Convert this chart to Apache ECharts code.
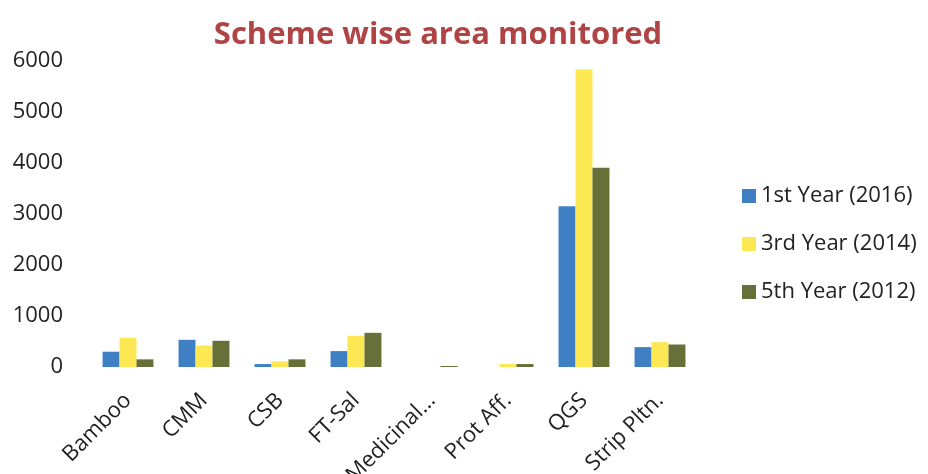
<!DOCTYPE html>
<html>
<head>
<meta charset="utf-8">
<title>Scheme wise area monitored</title>
<script src="https://cdn.jsdelivr.net/npm/echarts@6/dist/echarts.min.js"></script>
<style>
  html, body { margin: 0; padding: 0; background: #fff; }
  #chart { width: 928px; height: 474px; }
</style>
</head>
<body>
<div id="chart"></div>
<script>
// categories and values
var schemes = ['Bamboo', 'CMM', 'CSB', 'FT-Sal', 'Medicinal...', 'Prot Aff.', 'QGS', 'Strip Pltn.'];
var year1 = [300, 533, 58, 312, 0, 0, 3150, 390];     // 1st Year (2016)
var year3 = [572, 422, 110, 611, 0, 58, 5840, 488];   // 3rd Year (2014)
var year5 = [150, 514, 150, 670, 20, 58, 3906, 441];  // 5th Year (2012)
var seriesNames = ['1st Year (2016)', '3rd Year (2014)', '5th Year (2012)'];
var yTicks = [0, 1000, 2000, 3000, 4000, 5000, 6000];

var font = '"Open Sans", "Noto Sans", sans-serif';

var myChart = echarts.init(document.getElementById('chart'));
var option = {
    animation: false,
    color: ['#3F80C4', '#FBE853', '#667038'],
    title: {
        text: 'Scheme wise area monitored',
        left: 433,
        textAlign: 'center',
        top: 15,
        textStyle: { color: '#B04343', fontSize: 31, fontWeight: 'bold', fontFamily: font }
    },
    legend: {
        orient: 'vertical',
        left: 737,
        top: 180,
        itemWidth: 14,
        itemHeight: 14,
        itemGap: 26,
        icon: 'rect',
        textStyle: { color: '#222', fontSize: 22, fontFamily: font },
        data: seriesNames
    },
    grid: { left: 90, right: 230, top: 61, bottom: 107, outerBoundsMode: 'none', containLabel: false },
    xAxis: {
        type: 'category',
        data: schemes,
        axisLine: { show: false },
        axisTick: { show: false },
        axisLabel: { rotate: 45, margin: 30, color: '#222', fontSize: 22, fontFamily: font, interval: 0 }
    },
    yAxis: {
        type: 'value',
        min: yTicks[0],
        max: yTicks[yTicks.length - 1],
        interval: 1000,
        splitLine: { show: false },
        axisLine: { show: false },
        axisTick: { show: false },
        axisLabel: {
            color: '#222', fontSize: 22, fontFamily: font, margin: 27,
            formatter: function (v) { return String(v); }
        }
    },
    series: [
        { name: seriesNames[0], type: 'bar', data: year1, barGap: '0%', barCategoryGap: '33%' },
        { name: seriesNames[1], type: 'bar', data: year3, barGap: '0%', barCategoryGap: '33%' },
        { name: seriesNames[2], type: 'bar', data: year5, barGap: '0%', barCategoryGap: '33%' }
    ]
};
myChart.setOption(option);
</script>
</body>
</html>
